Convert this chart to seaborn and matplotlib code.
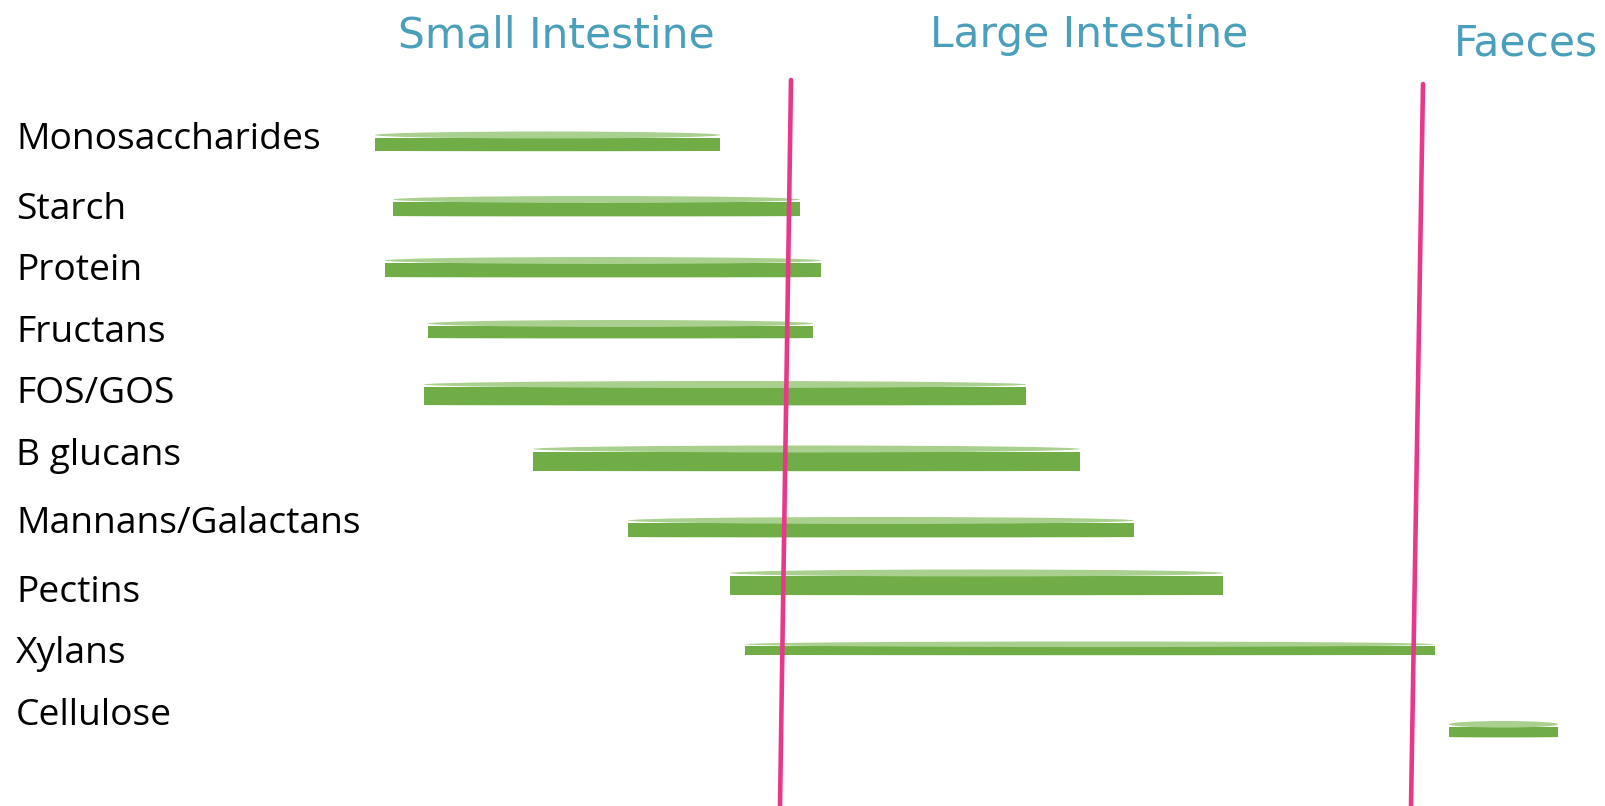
import matplotlib
matplotlib.use("Agg")
import matplotlib.pyplot as plt
from matplotlib.patches import Ellipse
import seaborn as sns
import pandas as pd

# positions are on a 0-1606 "gut transit" scale, rows on a 0-806 scale (top = 0)
substrates = ["Monosaccharides", "Starch", "Protein", "Fructans", "FOS/GOS",
              "B glucans", "Mannans/Galactans", "Pectins", "Xylans", "Cellulose"]
start = [375, 393, 385, 428, 424, 533, 628, 730, 745, 1449]
end = [720, 800, 821, 813, 1026, 1080, 1134, 1223, 1435, 1558]
row = [141, 206, 267, 329, 393, 458, 527, 582, 648, 729]
thick = [19, 20, 20, 18, 24, 25, 20, 25, 13, 16]
label_row = [149, 219, 280, 342, 403, 465, 533, 602, 663, 725]

regions = ["Small Intestine", "Large Intestine", "Faeces"]
region_x = [556, 1089, 1526]
region_y = [47, 47, 55]

# boundary lines (slightly slanted): top point and bottom point
boundary_x = [[791, 780], [1423, 1411]]
boundary_y = [[80, 806], [84, 806]]

df = pd.DataFrame({"substrate": substrates, "start": start, "end": end,
                   "row": row, "thick": thick, "label_row": label_row})
df["length"] = df["end"] - df["start"]

sns.set_theme(style="white")
plt.rcParams["font.family"] = ["Open Sans", "DejaVu Sans"]

fig = plt.figure(figsize=(16.06, 8.06), dpi=100)
ax = fig.add_axes([0, 0, 1, 1])
ax.set_xlim(0, 1606)
ax.set_ylim(806, 0)
ax.axis("off")

green = "#70AD47"
light = "#A9D08E"

for _, r in df.iterrows():
    top = r["row"] - r["thick"] / 2
    cap = min(6, r["thick"] * 0.35)
    ax.barh(r["row"] + cap / 2, r["length"], height=r["thick"] - cap,
            left=r["start"], color=green, edgecolor="none", zorder=2)
    ax.add_patch(Ellipse((r["start"] + r["length"] / 2, top + cap / 2 + 0.5),
                         r["length"], cap + 1, facecolor=light,
                         edgecolor="none", zorder=3))
    ax.add_patch(Ellipse((r["start"] + r["length"] / 2, r["row"] + r["thick"] / 2),
                         r["length"], 2, facecolor="#C5E0B4",
                         edgecolor="none", zorder=1))
    ax.text(16, r["label_row"], r["substrate"], fontsize=26.8, color="black",
            va="baseline", ha="left")

for bx, by in zip(boundary_x, boundary_y):
    sns.lineplot(x=bx, y=by, ax=ax, color="#E8388A", linewidth=3.3,
                 sort=False, estimator=None, zorder=4)

for name, x, y in zip(regions, region_x, region_y):
    ax.text(x, y, name, fontsize=30.5, color="#4A9FBB", ha="center",
            va="baseline", family=["DejaVu Sans"])

fig.savefig("out.png", dpi=100)
